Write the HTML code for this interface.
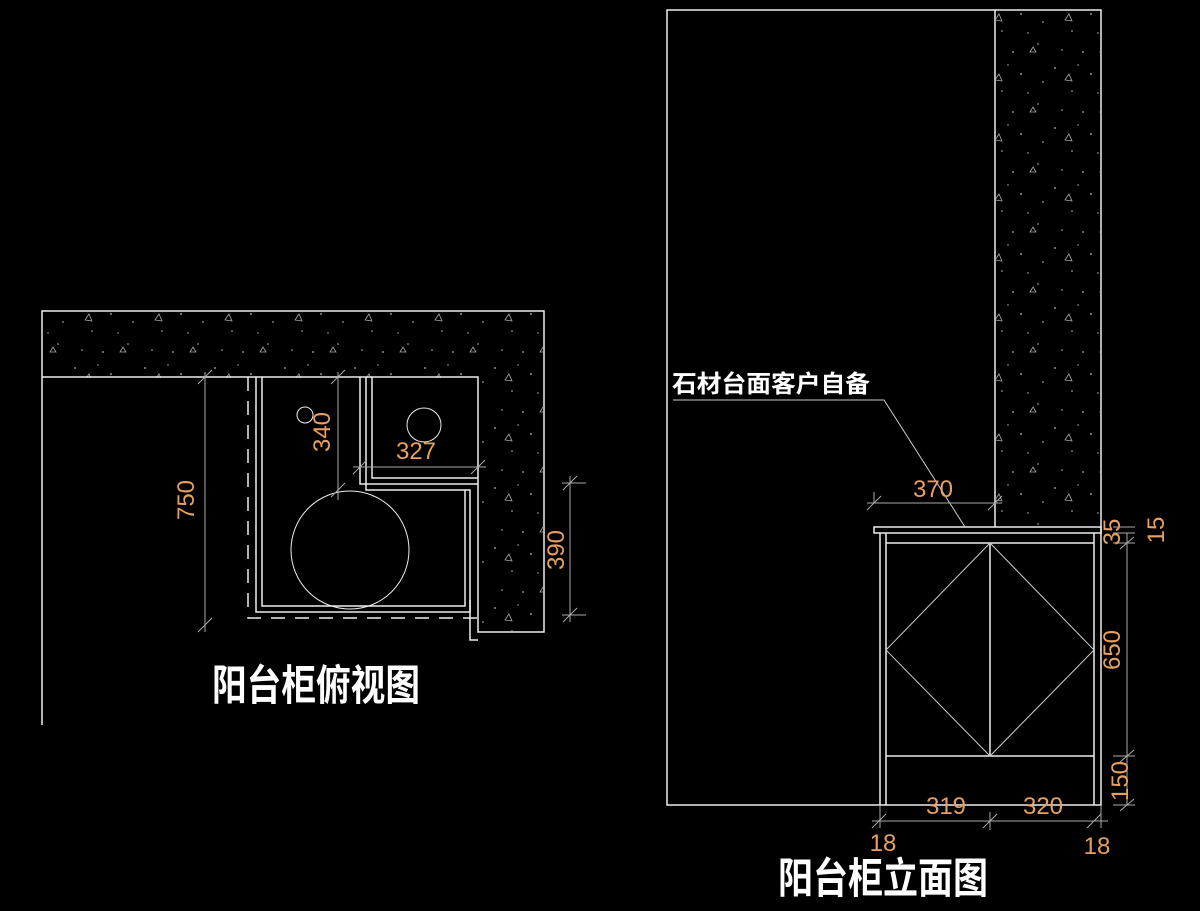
<!DOCTYPE html>
<html><head><meta charset="utf-8"><style>
html,body{margin:0;padding:0;background:#000;}
svg{display:block;}
.t{font-family:"Liberation Sans","Noto Sans CJK SC",sans-serif;}
</style></head><body>
<svg width="1200" height="911" viewBox="0 0 1200 911" xmlns="http://www.w3.org/2000/svg">
<defs>
<pattern id="sp" width="70" height="60" patternUnits="userSpaceOnUse">
<g fill="#bbb"><circle cx="5" cy="8" r="0.9"/><circle cx="22" cy="31" r="0.8"/><circle cx="41" cy="14" r="0.9"/><circle cx="58" cy="44" r="0.8"/><circle cx="12" cy="50" r="0.8"/><circle cx="33" cy="52" r="0.9"/><circle cx="63" cy="22" r="0.8"/><circle cx="48" cy="33" r="0.7"/><circle cx="28" cy="5" r="0.7"/></g>
<g fill="none" stroke="#aaa" stroke-width="0.8"><path d="M15 20 l4 -6 l3 7 z"/><path d="M50 52 l3 -5 l3 5 z"/></g>
</pattern>
</defs>
<rect width="1200" height="911" fill="#000"/>
<g fill="url(#sp)">
<path d="M43 312 H543 V631 H479 V378 H43 Z"/>
<rect x="996" y="11" width="104" height="516"/>
</g>
<g stroke="#eee" stroke-width="1.5" fill="none">
<path d="M42 725 V311 H544 V632 H478 V377 H42"/>
<path d="M248 377 V618 H478" stroke-dasharray="14 10"/>
<path d="M256 377 V612 H470 V490 H366 V377"/>
<path d="M262 377 V606 H465 V490"/>
<path d="M360 377 V484 H478"/>
<path d="M372 377 V478 H478"/>
<path d="M470 600 V640 H478"/>
<circle cx="305" cy="415" r="8" stroke-width="1"/>
<circle cx="424" cy="425" r="17" stroke-width="1"/>
<circle cx="350" cy="550" r="59" stroke-width="1"/>
<path d="M667 10 H1101 V805 H667 Z"/>
<path d="M995 10 V527"/>
<rect x="874" y="527" width="227" height="6"/>
<path d="M880 533 V805 M886 533 V805 M1094 533 V805"/>
<path d="M886 543 H1094 M886 756 H1094 M990 543 V756"/>
</g>
<g stroke="#ccc" stroke-width="1" fill="none">
<path d="M886 650 L990 543 L1094 650 L990 756 Z"/>
<path d="M673 400 H884 L965 527"/>
</g>
<g stroke="#aaa" stroke-width="1" fill="none">
<path d="M205 372 V632 M198 384 L212 370 M198 632 L212 618"/>
<path d="M338 372 V500 M331 384 L345 370 M331 497 L345 483"/>
<path d="M353 467 H486 M353 474 L367 460 M471 474 L485 460"/>
<path d="M570 476 V622 M562 483 H586 M562 615 H586 M563 490 L577 476 M563 622 L577 608"/>
<path d="M867 503 H1002 M867 510 L881 496 M988 510 L1002 496 M874 492 V503"/>
<path d="M1127 533 V805 M1113 527 H1135 M1113 533 H1135 M1113 543 H1135 M1113 756 H1135 M1113 805 H1135 M1120 762 L1134 750 M1120 811 L1134 799 M1120 549 L1134 537"/>
<path d="M872 821 H1108 M872 828 L886 814 M983 828 L997 814 M1087 828 L1101 814 M880 805 V828 M990 812 V830 M1101 805 V828"/>
</g>
<g class="t" fill="#e8a060" font-size="24">
<text transform="translate(194 500) rotate(-90)" text-anchor="middle">750</text>
<text transform="translate(330 432) rotate(-90)" text-anchor="middle">340</text>
<text x="416" y="459" text-anchor="middle">327</text>
<text transform="translate(564 550) rotate(-90)" text-anchor="middle">390</text>
<text x="933" y="497" text-anchor="middle">370</text>
<text transform="translate(1120 532) rotate(-90)" text-anchor="middle">35</text>
<text transform="translate(1164 530) rotate(-90)" text-anchor="middle">15</text>
<text transform="translate(1120 650) rotate(-90)" text-anchor="middle">650</text>
<text transform="translate(1128 781) rotate(-90)" text-anchor="middle">150</text>
<text x="946" y="814" text-anchor="middle">319</text>
<text x="1043" y="814" text-anchor="middle">320</text>
<text x="883" y="851" text-anchor="middle">18</text>
<text x="1097" y="854" text-anchor="middle">18</text>
</g>
<g class="t" fill="#fff" font-weight="bold">
<text x="212" y="700" font-size="42" textLength="208" lengthAdjust="spacingAndGlyphs">阳台柜俯视图</text>
<text x="778" y="893" font-size="42" textLength="210" lengthAdjust="spacingAndGlyphs">阳台柜立面图</text>
<text x="672" y="392" font-size="24" textLength="198" lengthAdjust="spacingAndGlyphs">石材台面客户自备</text>
</g>
</svg>
</body></html>
